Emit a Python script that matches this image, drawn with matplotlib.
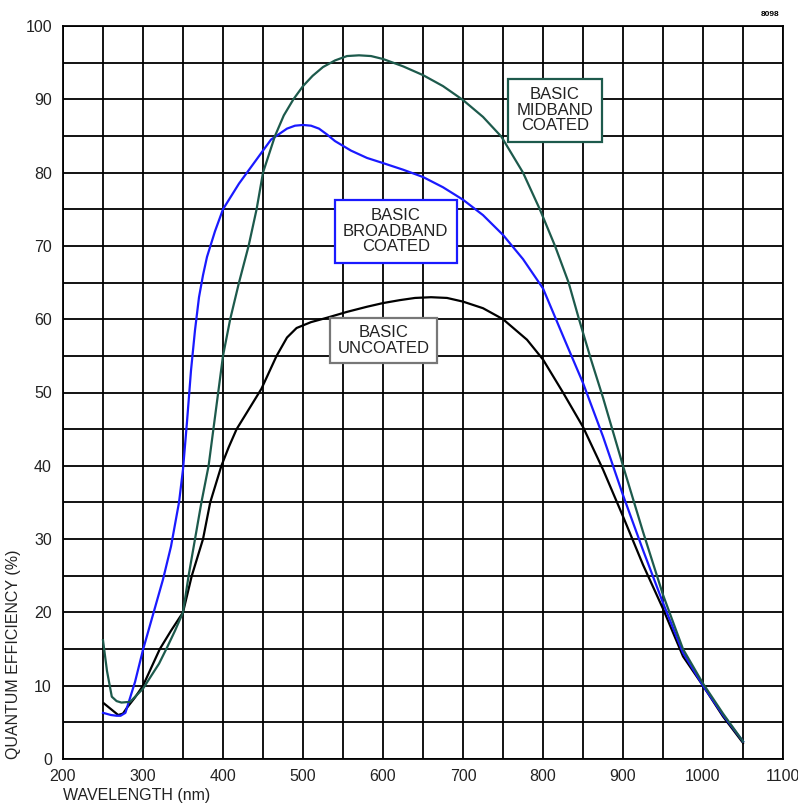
import matplotlib
matplotlib.use("Agg")
import matplotlib.pyplot as plt
import numpy as np

plt.rcParams['font.family'] = ['Liberation Sans', 'DejaVu Sans']

# Data (wavelength nm, QE %)
mid_wl = [250, 255, 261, 267, 273, 284, 300, 320, 330, 340, 350, 357, 365, 373, 382, 388, 394, 400,
          409, 420, 432, 442, 450, 465, 476, 488, 500, 512, 525, 540, 555, 570, 585, 600, 625, 650,
          675, 700, 725, 748, 775, 796, 815, 832, 845, 860, 875, 900, 925, 950, 975, 1000, 1025, 1050]
mid_qe = [16.2, 12.0, 8.5, 7.9, 7.7, 7.8, 9.6, 13.0, 15.2, 17.5, 20.0, 25.0, 30.0, 35.0, 40.0, 45.0, 50.0, 55.0,
          60.0, 65.0, 70.0, 75.0, 80.0, 85.0, 87.8, 90.0, 91.8, 93.2, 94.4, 95.3, 95.9, 96.0, 95.9, 95.5, 94.5, 93.3,
          91.8, 89.9, 87.6, 84.9, 80.0, 75.0, 70.0, 65.0, 60.0, 54.5, 49.3, 40.0, 31.0, 22.4, 15.0, 10.3, 6.2, 2.4]

broad_wl = [250, 260, 267, 272, 278, 290, 300, 312, 325, 335, 345, 350, 355, 360, 365, 370, 375, 380, 390,
            400, 420, 440, 460, 480, 490, 500, 510, 520, 530, 540, 560, 580, 600, 625, 650, 675, 700,
            725, 750, 775, 800, 827, 850, 875, 900, 925, 950, 975, 1000, 1025, 1050]
broad_qe = [6.3, 6.0, 5.9, 5.9, 6.3, 10.5, 14.9, 19.5, 24.5, 29.0, 35.0, 39.5, 46.0, 53.0, 58.5, 63.0, 66.0, 68.5, 72.0,
            75.0, 78.5, 81.5, 84.5, 86.0, 86.4, 86.5, 86.4, 86.0, 85.2, 84.3, 83.0, 82.0, 81.3, 80.4, 79.4, 78.0, 76.3,
            74.2, 71.5, 68.2, 64.2, 57.2, 51.3, 44.0, 36.0, 28.5, 21.3, 14.5, 10.0, 6.0, 2.4]

unc_wl = [251, 260, 269, 275, 280, 290, 300, 321, 335, 350, 361, 375, 384, 398, 407, 417, 430, 448, 467, 480,
          492, 510, 530, 555, 580, 600, 621, 640, 660, 680, 700, 725, 750, 780, 800, 825, 850, 875, 900, 925,
          950, 975, 1000, 1025, 1050]
unc_qe = [7.6, 6.8, 6.0, 6.2, 7.0, 8.4, 10.0, 15.0, 17.5, 20.0, 25.0, 30.0, 35.0, 40.0, 42.5, 45.0, 47.3, 50.5, 55.0, 57.5,
          58.8, 59.6, 60.2, 61.0, 61.7, 62.2, 62.6, 62.9, 63.0, 62.9, 62.4, 61.5, 60.0, 57.2, 54.5, 50.0, 45.3, 39.5, 33.1, 26.5,
          20.5, 14.0, 10.0, 5.8, 2.2]

x_ticks = [200, 300, 400, 500, 600, 700, 800, 900, 1000, 1100]
y_ticks = [0, 10, 20, 30, 40, 50, 60, 70, 80, 90, 100]

GREEN = '#1d5a4c'
BLUE = '#1a1aff'

fig = plt.figure(figsize=(7.98, 8.07), dpi=100)
ax = fig.add_axes([63/798, 1-759/807, 720/798, 733/807])

ax.set_xlim(200, 1100)
ax.set_ylim(0, 100)
ax.set_xticks(x_ticks)
ax.set_yticks(y_ticks)
ax.set_xticks(np.arange(250, 1100, 100), minor=True)
ax.set_yticks(np.arange(5, 100, 10), minor=True)
ax.grid(True, which='both', color='black', linewidth=1.3)
ax.set_axisbelow(True)
for s in ax.spines.values():
    s.set_linewidth(1.3)
    s.set_color('black')
ax.tick_params(which='both', length=0, labelsize=11.5, labelcolor='#222222')
ax.tick_params(axis='x', pad=7)
ax.tick_params(axis='y', pad=8)

ax.plot(unc_wl, unc_qe, color='black', linewidth=1.6, zorder=3)
ax.plot(broad_wl, broad_qe, color=BLUE, linewidth=1.6, zorder=3)
ax.plot(mid_wl, mid_qe, color=GREEN, linewidth=1.6, zorder=4)

box_font = 12
ax.text(815, 88.5, 'BASIC\nMIDBAND\nCOATED', ha='center', va='center', fontsize=box_font,
        color='#222222', linespacing=1.05, zorder=5,
        bbox=dict(boxstyle='square,pad=0.5', fc='white', ec=GREEN, lw=1.6))
ax.text(616, 72, 'BASIC\nBROADBAND\nCOATED', ha='center', va='center', fontsize=box_font,
        color='#222222', linespacing=1.05, zorder=5,
        bbox=dict(boxstyle='square,pad=0.5', fc='white', ec=BLUE, lw=1.6))
ax.text(601, 57.1, 'BASIC\nUNCOATED', ha='center', va='center', fontsize=box_font,
        color='#222222', linespacing=1.05, zorder=5,
        bbox=dict(boxstyle='square,pad=0.45', fc='white', ec='#777777', lw=1.6))

ax.set_xlabel('WAVELENGTH (nm)', loc='left', fontsize=11.5, color='#222222', labelpad=3)
ax.set_ylabel('QUANTUM EFFICIENCY (%)', loc='bottom', fontsize=11.5, color='#222222', labelpad=3)

fig.text(770/798, 1-15/807, '8098', fontsize=6, fontweight='bold', ha='center', va='center')

fig.savefig('out.png', dpi=100)
